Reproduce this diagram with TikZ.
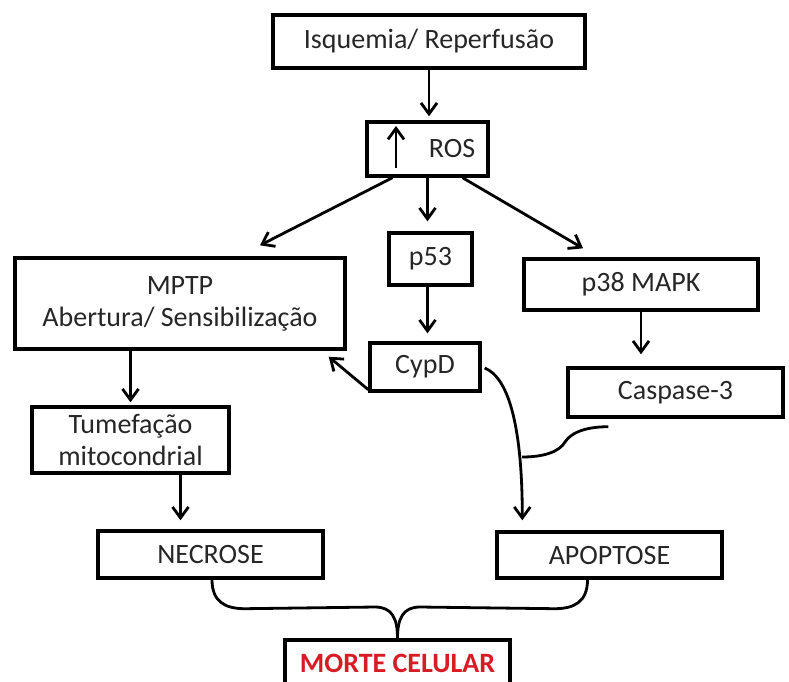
\documentclass[tikz,border=0pt]{standalone}
\usepackage{fontspec}
\setmainfont{Carlito}
\usepackage{xcolor}
\usetikzlibrary{arrows.meta, positioning, calc}

\definecolor{mortered}{RGB}{215,28,38}
\tikzset{
  box/.style={draw, line width=3.4pt, inner sep=0pt, align=center, text=black!85},
  arr/.style={-{Straight Barb[length=11pt,width=16pt,line width=2.8pt]}, line width=2.8pt},
  link/.style={line width=2.8pt},
}

\begin{document}
\begin{tikzpicture}[x=1pt, y=-1pt, font=\fontsize{28}{32}\selectfont]
  \useasboundingbox (0,0) rectangle (789,681);

  % Top of the cascade
  \node[box, minimum width=312pt, minimum height=53pt] (isq) at (429,41.5) {Isquemia/ Reperfusão};
  \node[box, minimum width=121pt, minimum height=54pt] (ros) at (427.5,149) {};
  \node[text=black!85] (rostxt) at (452,149) {ROS};
  \draw[arr] (396,168) -- (396,126);

  % Middle row
  \node[box, minimum width=330pt, minimum height=91pt] (mptp) at (180,303.5) {MPTP\\Abertura/ Sensibilização};
  \node[box, minimum width=83pt, minimum height=52pt] (p53) at (430.5,259) {p53};
  \node[box, minimum width=234pt, minimum height=51pt] (p38) at (641,284.5) {p38 MAPK};
  \node[box, minimum width=110pt, minimum height=48pt] (cypd) at (425,367) {CypD};
  \node[box, minimum width=215pt, minimum height=49pt] (casp) at (675.5,392.5) {Caspase-3};
  \node[box, minimum width=197pt, minimum height=66pt] (tum) at (130.5,440) {Tumefação\\mitocondrial};

  % Outcomes
  \node[box, minimum width=225pt, minimum height=47pt] (nec) at (210.5,554.5) {NECROSE};
  \node[box, minimum width=225pt, minimum height=46pt] (apo) at (609.5,555) {APOPTOSE};
  \node[box, minimum width=225pt, minimum height=46pt, text=mortered, font=\fontsize{28}{32}\selectfont\bfseries] (morte) at (397.5,663) {MORTE CELULAR};

  % Arrows
  \draw[arr, shorten >=4pt] (isq.south) -- (isq.south |- ros.north);
  \draw[arr] ($(ros.south)+(-35,0)$) -- ($(mptp.north)+(80,-11)$);
  \draw[arr, shorten >=10pt] (ros.south) -- (ros.south |- p53.north);
  \draw[arr] ($(ros.south)+(35,0)$) -- ($(p38.north)+(-58,-9)$);
  \draw[arr, shorten >=8pt] (p53.south -| ros.south) -- (cypd.north -| ros.south);
  \draw[arr] ($(cypd.south west)+(0,-3)$) -- ($(mptp.south east)+(-18,6)$);
  \draw[arr, shorten >=3pt] (tum.north |- mptp.south) -- (tum.north);
  \coordinate (tumout) at ($(tum.south)+(50,0)$);
  \draw[arr, shorten >=9pt] (tumout) -- (tumout |- nec.north);
  \draw[arr, shorten >=12pt] (p38.south) -- (p38.south |- casp.north);
  \draw[arr] ($(cypd.east)+(3,1)$) .. controls +(25,10) and +(0,-90) .. ($(apo.north west)+(27,-10)$);

  % Caspase-3 joining the CypD path
  \coordinate (casptail) at ($(casp.south west)+(42,8)$);
  \coordinate (cyptouch) at (522,457);
  \draw[link] (casptail) .. controls +(-25,0) and +(5,-8) .. ($(casptail)!0.5!(cyptouch)$)
    .. controls +(-6,10) and +(22,0) .. (cyptouch);

  % Brace into cell death
  \draw[link] ($(nec.south)+(1.5,0)$) .. controls +(0,22) and +(-20,0) .. ++(33,29) -- (375,607)
    .. controls +(17,0) and +(0,-20) .. (morte.north);
  \draw[link] ($(apo.south)+(-22,0)$) .. controls +(0,22) and +(20,0) .. ++(-33,29) -- (420,607)
    .. controls +(-17,0) and +(0,-20) .. (morte.north);
\end{tikzpicture}
\end{document}
